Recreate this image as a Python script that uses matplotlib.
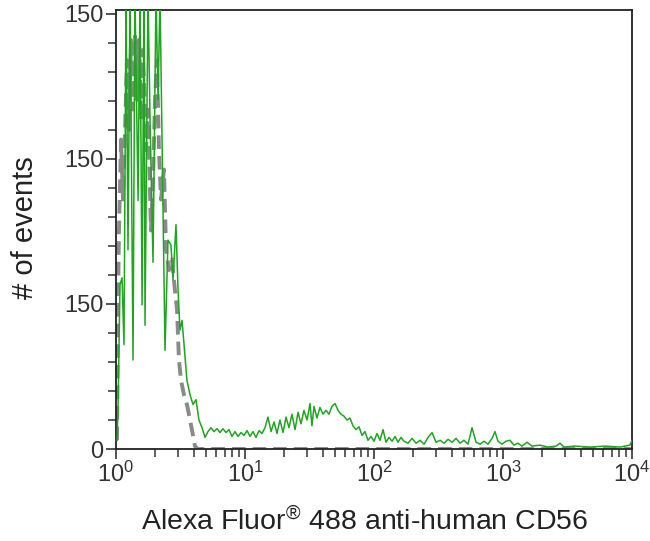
import numpy as np
import matplotlib
matplotlib.use("Agg")
import matplotlib.pyplot as plt
from matplotlib.ticker import FixedLocator, FixedFormatter, LogLocator, NullFormatter

plt.rcParams['font.family'] = ['Liberation Sans', 'DejaVu Sans']
plt.rcParams['mathtext.default'] = 'regular'

# log10 of fluorescence intensity, and event counts (stained sample, green)
green_log = [0.008, 0.016, 0.031, 0.047, 0.062, 0.078, 0.093, 0.109, 0.132, 0.147,
             0.171, 0.186, 0.202, 0.217, 0.225, 0.248, 0.264, 0.287, 0.310, 0.326,
             0.341, 0.364, 0.380, 0.403, 0.426, 0.442, 0.465, 0.481, 0.496, 0.512,
             0.527, 0.550, 0.574, 0.597, 0.620, 0.643, 0.667, 0.690, 0.713, 0.736,
             0.760, 0.783, 0.806, 0.829, 0.853, 0.876, 0.899, 0.922, 0.946, 0.969,
             0.992, 1.016, 1.039, 1.062, 1.085, 1.109, 1.132, 1.155, 1.178, 1.202,
             1.225, 1.248, 1.271, 1.295, 1.318, 1.341, 1.364, 1.388, 1.411, 1.434,
             1.457, 1.481, 1.504, 1.519, 1.535, 1.558, 1.581, 1.605, 1.628, 1.651,
             1.674, 1.698, 1.721, 1.744, 1.767, 1.791, 1.814, 1.837, 1.860, 1.884,
             1.907, 1.930, 1.953, 1.977, 2.000, 2.023, 2.047, 2.070, 2.093, 2.116,
             2.140, 2.163, 2.186, 2.209, 2.233, 2.264, 2.295, 2.326, 2.357, 2.388,
             2.419, 2.450, 2.481, 2.512, 2.543, 2.574, 2.605, 2.636, 2.667, 2.698,
             2.729, 2.760, 2.791, 2.822, 2.853, 2.884, 2.915, 2.938, 2.961, 2.992,
             3.023, 3.054, 3.085, 3.116, 3.147, 3.186, 3.225, 3.287, 3.349, 3.411,
             3.442, 3.473, 3.558, 3.674, 3.791, 3.907, 3.984, 4.000]
green_counts = [9, 43, 170, 177, 108, 470, 206, 470, 92, 470,
                257, 470, 149, 470, 128, 470, 340, 193, 470, 361,
                470, 257, 102, 216, 211, 175, 232, 164, 123, 133,
                108, 71, 56, 46, 51, 30, 22, 12, 18, 22,
                18, 21, 17, 21, 17, 20, 13, 18, 13, 17,
                14, 19, 13, 18, 12, 19, 16, 22, 33, 18,
                28, 16, 30, 17, 33, 22, 36, 20, 38, 26,
                40, 30, 47, 24, 44, 32, 43, 36, 40, 36,
                44, 47, 40, 36, 34, 30, 32, 24, 20, 23,
                14, 18, 9, 13, 8, 16, 9, 20, 7, 12,
                8, 13, 7, 12, 8, 6, 11, 6, 9, 5,
                12, 17, 7, 9, 6, 10, 7, 11, 6, 9,
                5, 22, 7, 5, 8, 5, 11, 18, 8, 5,
                8, 9, 4, 6, 3, 7, 3, 4, 2, 3,
                6, 2, 3, 2, 3, 2, 4, 9]

# isotype control (gray dashed)
gray_log = [0.008, 0.016, 0.023, 0.039, 0.054, 0.070, 0.085, 0.101, 0.116, 0.132,
            0.147, 0.163, 0.178, 0.194, 0.209, 0.233, 0.248, 0.271, 0.287, 0.302,
            0.318, 0.333, 0.349, 0.372, 0.388, 0.411, 0.434, 0.457, 0.473, 0.488,
            0.504, 0.527, 0.550, 0.574, 0.597, 0.612, 0.636, 4.000]
gray_counts = [9, 154, 226, 320, 258, 330, 402, 330, 423, 351,
               428, 361, 423, 340, 413, 309, 351, 226, 278, 361,
               402, 309, 258, 289, 206, 185, 196, 164, 144, 92,
               71, 56, 46, 30, 14, 3, 0, 0]

y_ticks = [0, 150, 300, 450]
y_tick_labels = ["0", "150", "150", "150"]
x_ticks = [1, 10, 100, 1000, 10000]
x_tick_labels = ["$10^{0}$", "$10^{1}$", "$10^{2}$", "$10^{3}$", "$10^{4}$"]
x_label = "Alexa Fluor$^{®}$ 488 anti-human CD56"
y_label = "# of events"

fig = plt.figure(figsize=(6.5, 5.41), dpi=100)
ax = fig.add_axes([116/650, 92/541, (632-116)/650, (449-10)/541])

ax.plot(10 ** np.array(gray_log), gray_counts, color='#8a8a8a', lw=2.8,
        dashes=(3.5, 1.8), zorder=2, solid_capstyle='butt')
ax.plot(10 ** np.array(green_log), green_counts, color='#1fa51f', lw=1.1, zorder=3)

ax.set_xscale('log')
ax.set_xlim(1, 10000)
ax.set_ylim(0, 454)

ax.yaxis.set_major_locator(FixedLocator(y_ticks))
ax.yaxis.set_major_formatter(FixedFormatter(y_tick_labels))
ax.yaxis.set_minor_locator(FixedLocator([v for v in range(0, 451, 30) if v % 150]))
ax.xaxis.set_major_locator(FixedLocator(x_ticks))
ax.xaxis.set_major_formatter(FixedFormatter(x_tick_labels))
ax.xaxis.set_minor_locator(LogLocator(base=10, subs=np.arange(2, 10)))
ax.xaxis.set_minor_formatter(NullFormatter())

ax.tick_params(axis='both', which='major', direction='out', length=7, width=1.2,
               labelsize=17, labelcolor='#333333', color='#333333', pad=2)
ax.tick_params(axis='both', which='minor', direction='out', length=6, width=1.1,
               color='#333333')
for s in ax.spines.values():
    s.set_color('#222222')
    s.set_linewidth(1.3)

fig.text(365/650, 11/541, x_label, fontsize=20.5, color='#222222',
         ha='center', va='baseline')
fig.text(25/650, 313/541, y_label, fontsize=21, color='#222222',
         ha='center', va='center', rotation=90)

fig.savefig("out.png", dpi=100)
